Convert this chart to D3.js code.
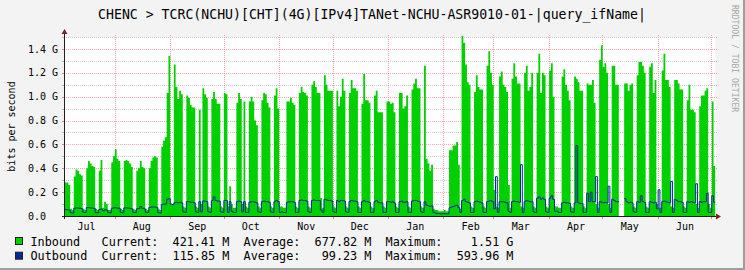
<!DOCTYPE html>
<html>
<head>
<meta charset="utf-8">
<script src="https://cdn.jsdelivr.net/npm/d3@7"></script>
<style>
body { margin:0; background:#F3F3F3; }
svg { display:block; }
text { font-family:"DejaVu Sans Mono", monospace; fill:#000; }
</style>
</head>
<body>
<script>
let title = "CHENC > TCRC(NCHU)[CHT](4G)[IPv4]TANet-NCHU-ASR9010-01-|query_ifName|";

// daily samples (G bits/s), one row per week Mon..Sun, first row starts Tue 2 Jul 2024
let firstSample = Date.UTC(2024, 6, 2, 22);
let inbound = [
  0.28,0.28,0.28,0.26,0.06,0.05,
  0.33,0.39,0.38,0.35,0.34,0.06,0.05,
  0.40,0.46,0.44,0.42,0.41,0.06,0.05,
  0.38,0.47,0.07,0.12,0.10,0.05,0.05,
  0.45,0.50,0.56,0.48,0.46,0.06,0.05,
  0.46,0.47,0.46,0.44,0.41,0.06,0.05,
  0.38,0.40,0.46,0.41,0.40,0.06,0.05,
  0.40,0.46,0.49,0.50,0.49,0.06,0.05,
  0.58,0.63,0.66,1.03,1.34,0.10,0.10,
  1.27,1.08,0.98,1.05,1.02,0.08,0.07,
  1.01,0.99,0.93,0.91,0.91,0.08,0.07,
  0.89,0.10,1.07,1.02,0.99,0.08,0.07,
  0.98,1.04,0.98,0.94,0.94,0.08,0.07,
  1.03,1.02,0.08,0.25,0.10,0.07,0.07,
  0.95,1.03,0.98,0.10,0.96,0.08,0.07,
  0.96,1.00,0.96,0.80,0.76,0.08,0.07,
  0.97,1.03,1.02,0.95,0.91,0.08,0.07,
  1.01,1.07,0.90,0.08,0.08,0.07,0.07,
  0.96,0.96,0.99,0.95,0.93,0.08,0.07,
  1.03,1.08,1.04,1.03,1.01,0.08,0.07,
  1.10,1.13,1.08,1.03,1.03,0.15,0.07,
  1.18,1.10,1.05,1.05,1.05,0.08,0.07,
  1.05,0.92,1.00,1.15,1.05,0.08,0.07,
  1.03,1.14,1.07,1.07,1.05,0.08,0.07,
  0.94,1.19,0.97,0.97,0.95,0.08,0.07,
  1.01,1.05,0.87,0.87,0.87,0.08,0.07,
  0.96,0.96,0.94,0.95,0.87,0.08,0.07,
  1.03,1.03,0.90,0.92,1.01,0.08,0.07,
  1.06,1.11,1.15,1.07,1.07,0.08,0.07,
  1.26,0.48,0.44,0.38,0.43,0.06,0.05,
  0.05,0.04,0.04,0.04,0.05,0.04,0.04,
  0.55,0.55,0.59,0.59,0.62,0.43,0.06,
  1.51,1.45,1.27,1.12,1.10,0.08,0.07,
  1.04,1.18,1.08,1.06,1.06,0.08,0.07,
  1.26,1.38,1.20,1.10,0.22,0.08,0.07,
  1.17,1.21,1.10,1.08,1.04,0.26,0.07,
  1.15,1.28,1.17,1.11,1.11,0.08,0.07,
  1.20,1.26,1.05,1.08,1.20,0.08,0.07,
  1.20,1.36,1.03,1.20,1.18,0.08,0.07,
  1.22,1.28,1.00,0.08,0.08,0.07,0.07,
  1.17,1.23,1.10,1.05,0.97,0.08,0.07,
  1.17,1.15,1.12,1.05,1.05,0.08,0.07,
  1.11,1.10,1.10,1.14,0.95,0.10,0.07,
  1.31,1.43,1.25,1.28,1.20,0.10,0.07,
  1.26,1.26,1.10,1.10,null,null,null,
  1.11,1.11,1.05,1.10,1.11,0.08,0.07,
  1.18,1.29,1.29,1.26,1.20,0.08,0.07,
  1.25,1.28,1.03,1.14,0.10,0.07,0.07,
  1.22,1.36,1.14,1.14,1.08,0.08,0.07,
  1.14,1.14,1.11,1.06,1.06,0.08,0.07,
  0.97,1.10,0.89,0.89,0.87,0.10,0.07,
  0.92,1.01,1.01,1.05,1.07,0.10,0.07,
  0.96,0.42
];
let outbound = [
  0.055,0.055,0.052,0.050,0.028,0.025,
  0.065,0.068,0.066,0.065,0.062,0.032,0.030,
  0.070,0.070,0.068,0.066,0.064,0.028,0.027,
  0.055,0.058,0.045,0.050,0.050,0.028,0.027,
  0.065,0.068,0.070,0.066,0.065,0.030,0.028,
  0.068,0.068,0.066,0.065,0.060,0.030,0.028,
  0.060,0.062,0.080,0.065,0.060,0.032,0.030,
  0.072,0.076,0.075,0.075,0.072,0.028,0.025,
  0.095,0.100,0.100,0.140,0.145,0.100,0.095,
  0.110,0.115,0.110,0.115,0.110,0.035,0.030,
  0.120,0.120,0.115,0.115,0.110,0.035,0.030,
  0.120,0.035,0.125,0.125,0.120,0.035,0.030,
  0.130,0.160,0.130,0.125,0.125,0.035,0.030,
  0.130,0.130,0.030,0.120,0.040,0.030,0.030,
  0.120,0.125,0.120,0.035,0.120,0.030,0.030,
  0.115,0.120,0.120,0.115,0.110,0.035,0.030,
  0.120,0.125,0.120,0.120,0.115,0.035,0.030,
  0.120,0.130,0.120,0.030,0.035,0.030,0.030,
  0.115,0.120,0.120,0.120,0.115,0.030,0.030,
  0.130,0.135,0.130,0.130,0.125,0.035,0.030,
  0.130,0.135,0.130,0.130,0.130,0.050,0.030,
  0.140,0.135,0.130,0.130,0.125,0.035,0.030,
  0.130,0.120,0.130,0.130,0.125,0.035,0.030,
  0.120,0.130,0.125,0.125,0.120,0.030,0.030,
  0.120,0.130,0.120,0.120,0.115,0.030,0.030,
  0.120,0.130,0.115,0.110,0.110,0.030,0.030,
  0.120,0.120,0.115,0.120,0.110,0.030,0.030,
  0.120,0.125,0.115,0.115,0.120,0.030,0.030,
  0.125,0.130,0.130,0.125,0.120,0.035,0.030,
  0.120,0.090,0.085,0.080,0.085,0.030,0.025,
  0.020,0.020,0.018,0.018,0.020,0.018,0.018,
  0.070,0.075,0.080,0.085,0.090,0.070,0.030,
  0.130,0.140,0.120,0.115,0.110,0.030,0.030,
  0.120,0.125,0.120,0.115,0.110,0.030,0.030,
  0.120,0.125,0.130,0.120,0.060,0.330,0.030,
  0.120,0.120,0.120,0.115,0.110,0.040,0.030,
  0.120,0.125,0.120,0.120,0.115,0.430,0.030,
  0.120,0.130,0.125,0.120,0.120,0.035,0.030,
  0.150,0.160,0.140,0.150,0.140,0.035,0.030,
  0.150,0.170,0.140,0.040,0.040,0.030,0.030,
  0.110,0.115,0.110,0.110,0.105,0.035,0.030,
  0.110,0.590,0.110,0.105,0.105,0.030,0.030,
  0.190,0.120,0.200,0.120,0.120,0.330,0.030,
  0.120,0.115,0.110,0.115,0.110,0.250,0.030,
  0.140,0.130,0.120,0.120,null,null,null,
  0.145,0.120,0.110,0.115,0.110,0.035,0.030,
  0.120,0.115,0.170,0.120,0.115,0.030,0.030,
  0.120,0.115,0.110,0.115,0.060,0.220,0.030,
  0.120,0.125,0.120,0.115,0.110,0.290,0.030,
  0.140,0.130,0.120,0.120,0.115,0.030,0.030,
  0.120,0.115,0.120,0.115,0.110,0.270,0.030,
  0.120,0.115,0.120,0.120,0.190,0.030,0.030,
  0.170,0.116
];

let months = ["Jul","Aug","Sep","Oct","Nov","Dec","Jan","Feb","Mar","Apr","May","Jun"];
let yTicks = [0, 0.2, 0.4, 0.6, 0.8, 1.0, 1.2, 1.4];
let yLabels = ["0.0", "0.2 G", "0.4 G", "0.6 G", "0.8 G", "1.0 G", "1.2 G", "1.4 G"];
let minorTicks = [0.1, 0.3, 0.5, 0.7, 0.9, 1.1, 1.3, 1.5];

let seriesNames = ["Inbound", "Outbound"];
let seriesColors = ["#00CF00", "#002A97"];
let currentVals = ["421.41 M", "115.85 M"];
let averageVals = ["677.82 M", "99.23 M"];
let maximumVals = ["1.51 G", "593.96 M"];

let width = 745, height = 270;
let margin = {left:64, right:30.5, top:37, bottom:54};
let x0 = margin.left, x1 = width - margin.right, yTop = margin.top, yBot = height - margin.bottom;
let dayMs = 864e5;

let svg = d3.select("body").append("svg").attr("width", width).attr("height", height);
svg.append("rect").attr("width", width).attr("height", height).attr("fill", "#F3F3F3");
svg.append("rect").attr("x", width-2).attr("y", 0).attr("width", 2).attr("height", height).attr("fill", "#9E9E9E");
svg.append("rect").attr("x", 0).attr("y", height-2).attr("width", width).attr("height", 2).attr("fill", "#9E9E9E");

let x = d3.scaleUtc()
  .domain([new Date(Date.UTC(2024, 6, 3, 11)), new Date(Date.UTC(2025, 6, 2, 11))])
  .range([x0, x1]);
let y = d3.scaleLinear().domain([0, 1.5]).range([yBot, yTop]);

svg.append("rect").attr("x", x0).attr("y", yTop).attr("width", x1 - x0 + 1).attr("height", yBot - yTop).attr("fill", "#fff");

let py = v => Math.round(y(v)) + 0.5;
let px = d => Math.floor(x(d)) + 0.5;

let grid = svg.append("g").attr("shape-rendering", "crispEdges");
grid.selectAll(".minor").data(minorTicks).enter().append("line")
  .attr("x1", x0).attr("x2", x1 + 2).attr("y1", py).attr("y2", py)
  .attr("stroke", "#8C8C8C").attr("stroke-opacity", 0.45).attr("stroke-dasharray", "1,1");
grid.selectAll(".minort").data(minorTicks).enter().append("line")
  .attr("x1", x0 - 2).attr("x2", x0).attr("y1", py).attr("y2", py)
  .attr("stroke", "#8C8C8C").attr("stroke-opacity", 0.6);
grid.selectAll(".major").data(yTicks.slice(1)).enter().append("line")
  .attr("x1", x0).attr("x2", x1 + 2).attr("y1", py).attr("y2", py)
  .attr("stroke", "#F58080").attr("stroke-opacity", 0.7).attr("stroke-dasharray", "1,1");
grid.selectAll(".majort").data(yTicks).enter().append("line")
  .attr("x1", x0 - 2).attr("x2", x0).attr("y1", py).attr("y2", py)
  .attr("stroke", "#F58080");

let monthStarts = d3.utcMonth.range(x.domain()[0], x.domain()[1]);
grid.selectAll(".vmaj").data(monthStarts).enter().append("line")
  .attr("x1", px).attr("x2", px).attr("y1", yTop - 2).attr("y2", yBot)
  .attr("stroke", "#F58080").attr("stroke-opacity", 0.7).attr("stroke-dasharray", "1,1");
grid.selectAll(".vtick").data(monthStarts).enter().append("line")
  .attr("x1", px).attr("x2", px).attr("y1", yBot).attr("y2", yBot + 3)
  .attr("stroke", "#F58080");

function steps(vals) {
  let pts = [];
  vals.forEach((v, i) => {
    let t = firstSample + i * dayMs;
    pts.push({t: new Date(t), v: v}, {t: new Date(t + dayMs), v: v});
  });
  return pts;
}

let clip = svg.append("clipPath").attr("id", "plot").append("rect")
  .attr("x", x0 + 1).attr("y", yTop - 5).attr("width", x1 - x0).attr("height", yBot - yTop + 5);

let chartGroup = svg.append("g").attr("clip-path", "url(#plot)");
chartGroup.append("path")
  .datum(steps(inbound))
  .attr("fill", seriesColors[0])
  .attr("d", d3.area().defined(d => d.v != null).x(d => x(d.t)).y0(y(0)).y1(d => y(d.v)));
chartGroup.append("path")
  .datum(steps(outbound))
  .attr("fill", "none").attr("stroke", seriesColors[1]).attr("stroke-width", 1)
  .attr("d", d3.line().defined(d => d.v != null).x(d => x(d.t)).y(d => y(d.v)));

// axes
svg.append("line").attr("x1", x0 - 2).attr("x2", x1 + 2).attr("y1", yBot + 0.5).attr("y2", yBot + 0.5)
  .attr("stroke", "#1F1F1F").attr("shape-rendering", "crispEdges");
svg.append("line").attr("x1", x0 + 0.5).attr("x2", x0 + 0.5).attr("y1", yBot + 3).attr("y2", yTop - 4)
  .attr("stroke", "#1F1F1F").attr("shape-rendering", "crispEdges");
svg.append("path").attr("d", `M${x0 - 2.5},${yTop - 3}L${x0 + 3.5},${yTop - 3}L${x0 + 0.5},${yTop - 8}Z`).attr("fill", "#802020");
svg.append("path").attr("d", `M${x1 + 1.5},${yBot - 2.5}L${x1 + 1.5},${yBot + 3.5}L${x1 + 6.5},${yBot + 0.5}Z`).attr("fill", "#802020");

svg.selectAll(".ylab").data(yTicks).enter().append("text")
  .attr("x", 28).attr("y", d => y(d) + 3.6)
  .attr("font-size", "10px")
  .text((d, i) => yLabels[i]);

svg.selectAll(".xlab").data(months).enter().append("text")
  .attr("x", (d, i) => x(new Date(Date.UTC(2024, 6 + i, 16))))
  .attr("y", 229.5).attr("text-anchor", "middle").attr("font-size", "10px")
  .text(d => d);

svg.append("text").attr("transform", "translate(14.5," + ((yTop + yBot) / 2) + ") rotate(-90)")
  .attr("text-anchor", "middle").attr("font-size", "10px").text("bits per second");

svg.append("text").attr("x", 372).attr("y", 19).attr("text-anchor", "middle")
  .attr("font-size", "13.2px").text(title);

svg.append("text").attr("transform", "translate(731.5,5) rotate(90)")
  .attr("font-size", "8.1px").style("fill", "#A8A8A8").text("RRDTOOL / TOBI OETIKER");

// legend
let pad = (s, n) => " ".repeat(Math.max(0, n - s.length)) + s;
let legend = svg.selectAll(".leg").data(seriesNames).enter().append("g")
  .attr("transform", (d, i) => "translate(0," + (i * 14.7) + ")");
legend.append("rect").attr("x", 15.5).attr("y", 237.5).attr("width", 7).attr("height", 7)
  .attr("fill", (d, i) => seriesColors[i]).attr("stroke", "#222").attr("stroke-width", 1);
legend.append("text").attr("x", 30.5).attr("y", 245.5).attr("font-size", "11.8px")
  .attr("xml:space", "preserve").style("white-space", "pre")
  .text((d, i) => (d + "          ").slice(0, 10) + "Current:" + pad(currentVals[i], 10) +
    "  Average:" + pad(averageVals[i], 10) + "  Maximum:" + pad(maximumVals[i], 10));
</script>
</body>
</html>
